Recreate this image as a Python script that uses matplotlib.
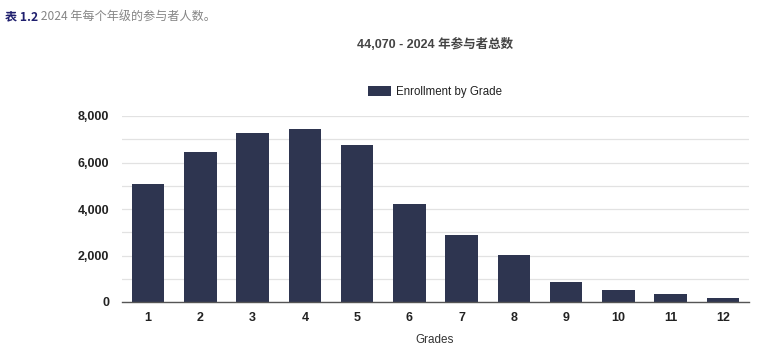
import matplotlib
matplotlib.use("Agg")
import matplotlib.pyplot as plt
from matplotlib.ticker import FuncFormatter, MultipleLocator
from matplotlib.patches import Patch

grades = ["1", "2", "3", "4", "5", "6", "7", "8", "9", "10", "11", "12"]
enrollment = [5090, 6460, 7270, 7420, 6760, 4230, 2870, 2020, 880, 530, 360, 180]
title = "44,070 - 2024 年参与者总数"
caption_bold = "表 1.2"
caption_rest = " 2024 年每个年级的参与者人数。"
series_name = "Enrollment by Grade"
xlabel = "Grades"

LAT = ["Liberation Sans", "Noto Sans CJK SC", "DejaVu Sans"]
CJK = ["Noto Sans CJK SC", "DejaVu Sans"]
plt.rcParams['font.family'] = LAT

fig = plt.figure(figsize=(7.68, 3.48), dpi=100)
ax = fig.add_axes([122/768, 1-302/348, (749-122)/768, (302-116)/348])

bar_color = "#2e3550"
x = list(range(len(grades)))
ax.bar(x, enrollment, width=0.62, color=bar_color, zorder=3)

ax.set_xlim(-0.5, len(grades)-0.5)
ax.set_ylim(0, 8000)
ax.yaxis.set_major_locator(MultipleLocator(2000))
ax.yaxis.set_minor_locator(MultipleLocator(1000))
ax.yaxis.set_major_formatter(FuncFormatter(lambda v, p: f"{int(v):,}"))
ax.grid(axis='y', which='both', color="#e2e2e2", linewidth=0.9, zorder=0)
ax.set_xticks(x)
ax.set_xticklabels(grades)
for s in ["top", "right", "left"]:
    ax.spines[s].set_visible(False)
ax.spines["bottom"].set_color("#555555")
ax.spines["bottom"].set_linewidth(1.0)
ax.spines["bottom"].set_zorder(4)
ax.tick_params(axis='both', which='both', length=0)
ax.tick_params(axis='y', pad=9)
ax.tick_params(axis='x', pad=7.5)
for lbl in ax.get_yticklabels() + ax.get_xticklabels():
    lbl.set_fontweight("bold")
    lbl.set_fontsize(9)
    lbl.set_color("#222222")

fig.text(435/768, 1-340/348, xlabel, ha="center", va="center", fontsize=8.4, color="#333333")

fig.text(435/768, 1-44/348, title, ha="center", va="center", fontsize=9,
         fontweight="bold", color="#444444", family=["Liberation Sans", "Noto Sans CJK SC"])

leg = fig.legend(handles=[Patch(facecolor=bar_color, label=series_name)],
                 loc="center", bbox_to_anchor=(435/768, 1-92/348), frameon=False,
                 fontsize=8.3, handlelength=2.0, handleheight=0.87, handletextpad=0.45)
for t in leg.get_texts():
    t.set_color("#222222")

t1 = fig.text(5/768, 1-17/348, caption_bold, ha="left", va="center", fontsize=8.7,
              fontweight="bold", color="#1f1f6e", family=CJK)
fig.canvas.draw()
bb = t1.get_window_extent()
fig.text(bb.x1/768, 1-17/348, caption_rest, ha="left", va="center", fontsize=8.7,
         color="#858585", family=CJK)

fig.savefig("out.png", dpi=100)
